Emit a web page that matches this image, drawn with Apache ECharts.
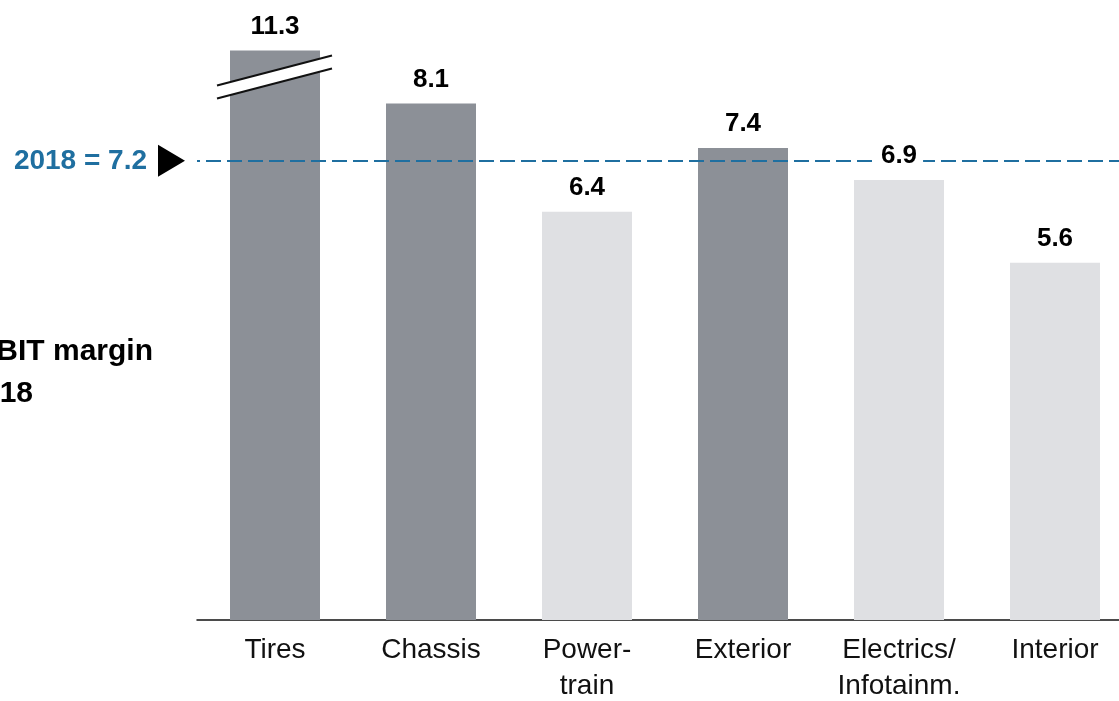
<!DOCTYPE html>
<html><head><meta charset="utf-8">
<script src="https://cdn.jsdelivr.net/npm/echarts@6/dist/echarts.min.js"></script>
<style>html,body{margin:0;padding:0;background:#fff}#c{width:1119px;height:701px}</style>
</head><body><div id="c"></div>
<script>
const categories = ['Tires', 'Chassis', 'Power-\ntrain', 'Exterior', 'Electrics/\nInfotainm.', 'Interior'];
const ebitMargin = [11.3, 8.1, 6.4, 7.4, 6.9, 5.6];
// drawn bar heights (Tires is cut by an axis break)
const drawnHeight = [8.93, 8.1, 6.4, 7.4, 6.9, 5.6];
const highlighted = [true, true, false, true, false, false];
const reference2018 = 7.2;
const yLabel = ['EBIT margin', '2018'];

const FONT = "'Liberation Sans Narrow', 'Arial Narrow', 'Liberation Sans', Arial, sans-serif";
const DARK = '#8c9097', LIGHT = '#dfe0e3', BLUE = '#1f6fa0';

const chart = echarts.init(document.getElementById('c'), null, {renderer: 'canvas'});
const option = {
  animation: false,
  backgroundColor: '#fff',
  grid: {left: 197, right: -14, top: 46, bottom: 81, containLabel: false, outerBoundsMode: 'none'},
  xAxis: {
    type: 'category', data: categories,
    axisLine: {lineStyle: {color: '#111', width: 1.5}},
    axisTick: {show: false},
    axisLabel: {fontFamily: FONT, fontSize: 28, color: '#111', lineHeight: 36, margin: 12, interval: 0}
  },
  yAxis: {type: 'value', min: 0, max: 9, show: false, splitLine: {show: false}},
  series: [
    {
      type: 'bar', barWidth: 90, z: 2,
      data: drawnHeight.map((v, i) => ({value: v, itemStyle: {color: highlighted[i] ? DARK : LIGHT}})),
      markLine: {
        silent: true, symbol: 'none',
        label: {show: false},
        lineStyle: {color: BLUE, width: 2, type: [15, 6], dashOffset: 12},
        data: [{yAxis: reference2018}]
      }
    },
    {
      type: 'scatter', z: 10, symbolSize: 0, silent: true,
      itemStyle: {opacity: 1},
      data: drawnHeight,
      label: {
        show: true, position: 'top', distance: 11, opacity: 1,
        formatter: p => ebitMargin[p.dataIndex].toFixed(1),
        fontFamily: FONT, fontSize: 26, fontWeight: 'bold', color: '#000',
        backgroundColor: '#fff', padding: [0, 6]
      }
    }
  ]
};
chart.setOption(option);

const [cx, topY] = chart.convertToPixel({seriesIndex: 0}, [0, drawnHeight[0]]);
const refY = chart.convertToPixel({seriesIndex: 0}, [0, reference2018])[1];
chart.setOption({
  graphic: [
    {type: 'polygon', z: 100, shape: {points: [[cx - 58, topY + 35], [cx + 57, topY + 5], [cx + 57, topY + 18], [cx - 58, topY + 48]]}, style: {fill: '#fff'}},
    {type: 'line', z: 101, shape: {x1: cx - 58, y1: topY + 35, x2: cx + 57, y2: topY + 5}, style: {stroke: '#111', lineWidth: 2}},
    {type: 'line', z: 101, shape: {x1: cx - 58, y1: topY + 48, x2: cx + 57, y2: topY + 18}, style: {stroke: '#111', lineWidth: 2}},
    {type: 'polygon', z: 100, shape: {points: [[158, refY - 16], [158, refY + 16], [185, refY]]}, style: {fill: '#000'}},
    {type: 'text', z: 100, x: 147, y: refY, style: {text: '2018 = ' + reference2018, align: 'right', verticalAlign: 'middle', font: "bold 28px " + FONT, fill: BLUE}},
    {type: 'text', z: 100, x: 153, y: 352, style: {text: yLabel[0], align: 'right', verticalAlign: 'middle', font: "bold 30px " + FONT, fill: '#000'}},
    {type: 'text', z: 100, x: 33, y: 394, style: {text: yLabel[1], align: 'right', verticalAlign: 'middle', font: "bold 30px " + FONT, fill: '#000'}}
  ]
});
</script>
</body></html>
